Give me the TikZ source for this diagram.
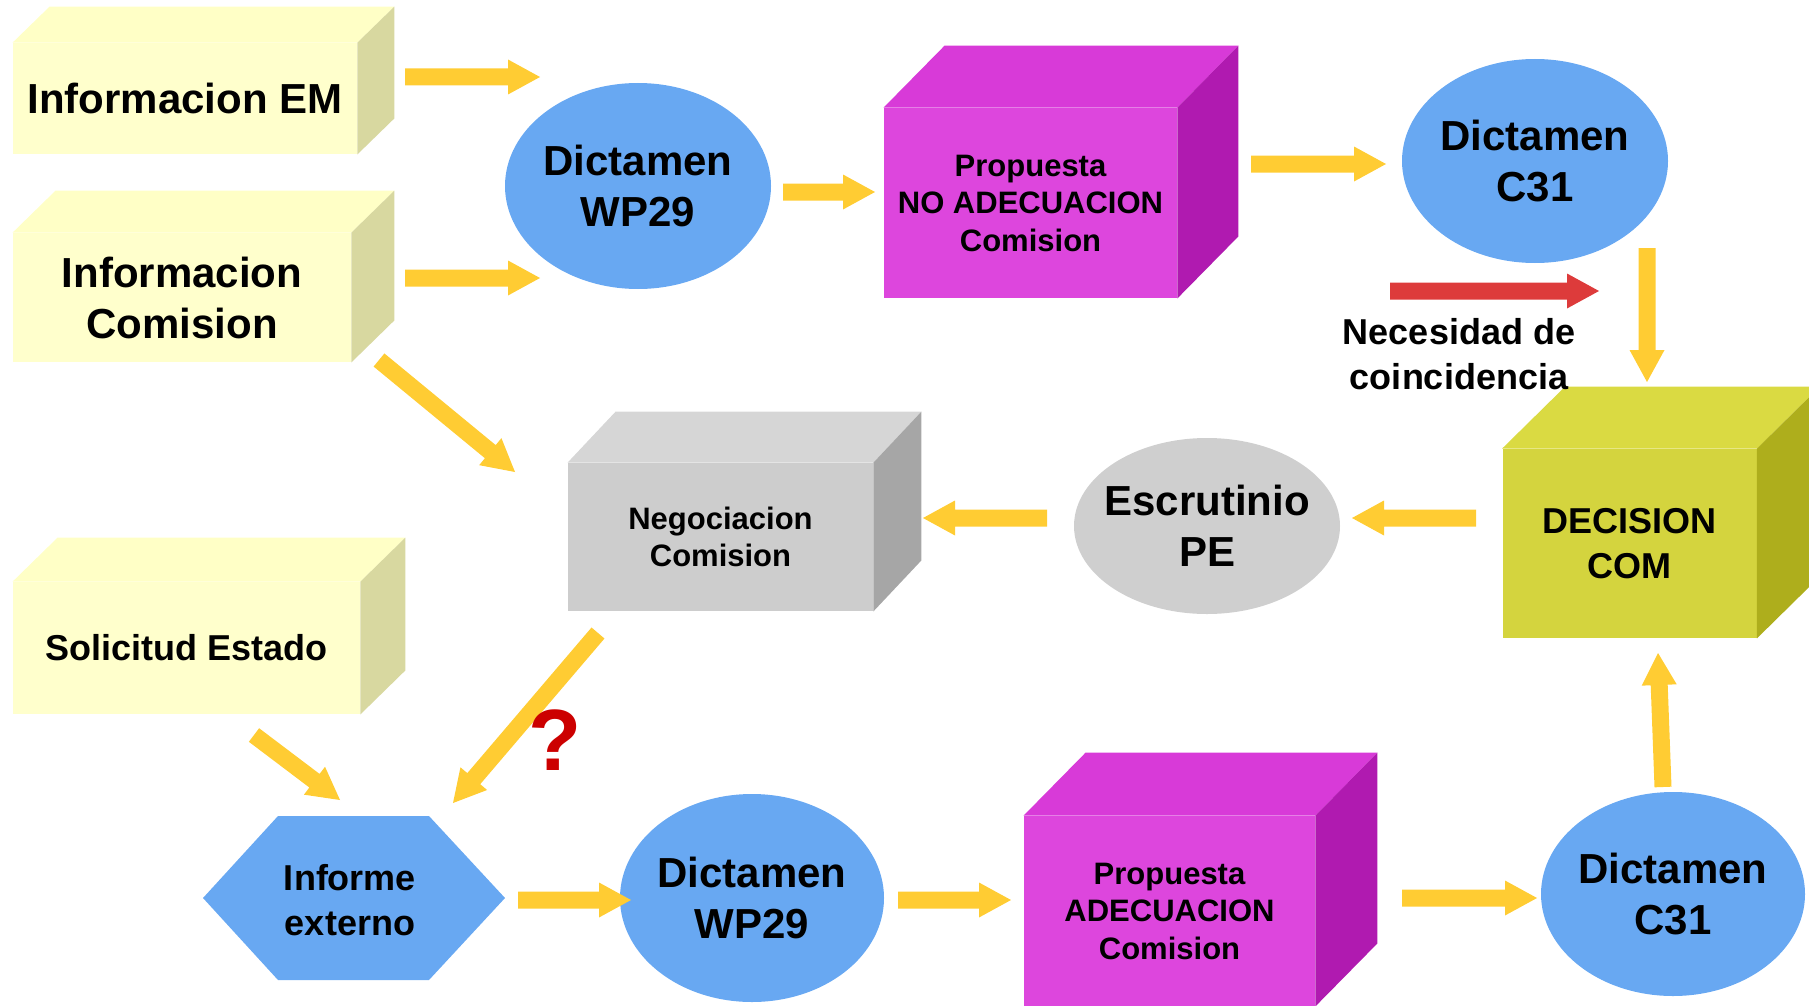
\documentclass[tikz,border=0pt]{standalone}
\usepackage{fontspec}
\setmainfont{Liberation Sans}
\usetikzlibrary{shapes.geometric,calc}

\definecolor{infoyel}{HTML}{FFFFCC}
\definecolor{infoyeltop}{HTML}{FFFFC6}
\definecolor{infoyelside}{HTML}{D8D8A0}
\definecolor{propmag}{HTML}{DD46DD}
\definecolor{propmagtop}{HTML}{D83AD8}
\definecolor{propmagside}{HTML}{B01AB0}
\definecolor{negogray}{HTML}{CDCDCD}
\definecolor{negograytop}{HTML}{D6D6D6}
\definecolor{negograyside}{HTML}{A6A6A6}
\definecolor{decolive}{HTML}{D4D43E}
\definecolor{decolivetop}{HTML}{DADA42}
\definecolor{decoliveside}{HTML}{AEAE1C}
\definecolor{dictblue}{HTML}{68A8F2}
\definecolor{escgray}{HTML}{CFCFCF}
\definecolor{arrowgold}{HTML}{FFCC33}
\definecolor{arrowred}{HTML}{DD3B3B}
\definecolor{qred}{HTML}{CC0000}

% block arrow from tail coordinate #2 to tip coordinate #3
\newcommand{\fatarr}[3][arrowgold]{%
  \fill[#1] ($(#2)!4.25pt!90:(#3)$)
    -- ($($(#3)!16pt!(#2)$)!4.25pt!90:(#3)$)
    -- ($($(#3)!16pt!(#2)$)!8.75pt!90:(#3)$)
    -- (#3)
    -- ($($(#3)!16pt!(#2)$)!8.75pt!-90:(#3)$)
    -- ($($(#3)!16pt!(#2)$)!4.25pt!-90:(#3)$)
    -- ($(#2)!4.25pt!-90:(#3)$) -- cycle;}

% top and side faces of a cube whose front face is node #1
\newcommand{\cubesides}[4]{%
  \fill[#3] (#1.north west) -- ++(#2) -- ($(#1.north east)+(#2)$) -- (#1.north east) -- cycle;
  \fill[#4] (#1.north east) -- ++(#2) -- ($(#1.south east)+(#2)$) -- (#1.south east) -- cycle;}

\tikzset{
  front/.style={rectangle, inner sep=0pt, align=center},
  dict/.style={ellipse, inner sep=-15pt, fill=dictblue, align=center, bigtxt},
  bigtxt/.style={font=\bfseries\fontsize{21}{25.5}\selectfont},
  midtxt/.style={font=\bfseries\fontsize{18}{22.5}\selectfont},
  smalltxt/.style={font=\bfseries\fontsize{15.5}{18.75}\selectfont},
}

\begin{document}
\begin{tikzpicture}[x=0.5pt,y=0.5pt,yscale=-1]
\clip (0,0) rectangle (1809,1006);

%Shape: Cube
\node[front, fill=infoyel, bigtxt, minimum width=172pt, minimum height=55.5pt] (infoEM) at (185,98.5) {Informacion EM};
\cubesides{infoEM}{37,-36}{infoyeltop}{infoyelside}
%Shape: Cube
\node[front, fill=infoyel, bigtxt, minimum width=169pt, minimum height=64.5pt] (infoCom) at (182,297.5) {Informacion\\Comision};
\cubesides{infoCom}{43,-42}{infoyeltop}{infoyelside}
%Shape: Cube
\node[front, fill=infoyel, midtxt, minimum width=173.5pt, minimum height=66pt] (solEst) at (186.5,648) {Solicitud Estado};
\cubesides{solEst}{45,-44}{infoyeltop}{infoyelside}
%Shape: Cube
\node[front, fill=propmag, smalltxt, minimum width=146.5pt, minimum height=95pt] (noAdec) at (1030.5,203) {Propuesta\\NO ADECUACION\\Comision};
\cubesides{noAdec}{61,-62}{propmagtop}{propmagside}
%Shape: Cube
\node[front, fill=negogray, smalltxt, minimum width=152.5pt, minimum height=74pt] (negoc) at (720.5,537) {Negociacion\\Comision};
\cubesides{negoc}{48,-51}{negograytop}{negograyside}
%Shape: Cube
\node[front, fill=decolive, midtxt, minimum width=127pt, minimum height=94.5pt] (decis) at (1629.5,543.5) {DECISION\\COM};
\cubesides{decis}{63,-62}{decolivetop}{decoliveside}
%Shape: Cube
\node[front, fill=propmag, smalltxt, minimum width=145.5pt, minimum height=95pt] (adec) at (1169.5,911) {Propuesta\\ADECUACION\\Comision};
\cubesides{adec}{62,-63}{propmagtop}{propmagside}

%Shape: Ellipse
\node[dict, minimum width=133pt, minimum height=103pt] (wpA) at (638,186) {Dictamen\\WP29};
%Shape: Ellipse
\node[dict, minimum width=133pt, minimum height=102pt] (cA) at (1535,161) {Dictamen\\C31};
%Shape: Ellipse
\node[dict, fill=escgray, minimum width=133pt, minimum height=88pt] (escr) at (1207,526) {Escrutinio\\PE};
%Shape: Ellipse
\node[dict, minimum width=132pt, minimum height=104pt] (wpB) at (752,898) {Dictamen\\WP29};
%Shape: Ellipse
\node[dict, minimum width=132pt, minimum height=102pt] (cB) at (1673,894) {Dictamen\\C31};

%Shape: Hexagon
\fill[dictblue] (203,898) -- (278,816) -- (429,816) -- (505,898) -- (429,980) -- (278,980) -- cycle;
% Text Node
\node[midtxt, align=center] (infEx) at (350,900) {Informe\\externo};

%Straight Lines
\coordinate (emOut) at (405,77);    \coordinate (wpAinT) at (540,77);
\coordinate (comOut) at (405,278);  \coordinate (wpAinB) at (540,278);
\coordinate (wpAout) at (783,192);  \coordinate (noAin) at (875,192);
\coordinate (noAout) at (1251,164); \coordinate (cAin) at (1386,164);
\coordinate (cAout) at (1647,248);  \coordinate (decTop) at (1647,382);
\coordinate (comDiag) at (379,360); \coordinate (negIn) at (515,472);
\coordinate (decOut) at (1476,518); \coordinate (escIn) at (1352,518);
\coordinate (escOut) at (1047,518); \coordinate (negR) at (923,518);
\coordinate (negOut) at (598,633);  \coordinate (infInR) at (453,803);
\coordinate (solOut) at (254,735);  \coordinate (infInL) at (340,800);
\coordinate (infOut) at (518,900);  \coordinate (wpBin) at (631,900);
\coordinate (wpBout) at (898,900);  \coordinate (adIn) at (1011,900);
\coordinate (adOut) at (1402,898);  \coordinate (cBin) at (1537,898);
\coordinate (cBout) at (1663,787);  \coordinate (decBot) at (1658,653);
\coordinate (redOut) at (1390,291); \coordinate (redIn) at (1599,291);

\fatarr{emOut}{wpAinT}
\fatarr{comOut}{wpAinB}
\fatarr{wpAout}{noAin}
\fatarr{noAout}{cAin}
\fatarr{cAout}{decTop}
\fatarr{comDiag}{negIn}
\fatarr{decOut}{escIn}
\fatarr{escOut}{negR}
\fatarr{negOut}{infInR}
\fatarr{solOut}{infInL}
\fatarr{infOut}{wpBin}
\fatarr{wpBout}{adIn}
\fatarr{adOut}{cBin}
\fatarr{cBout}{decBot}
\fatarr[arrowred]{redOut}{redIn}

% Text Node
\node[midtxt, align=center] (neces) at (1459,354) {Necesidad de\\coincidencia};
% Text Node
\node[text=qred, font=\bfseries\fontsize{43.5}{50}\selectfont] (quest) at (555,740) {?};

\end{tikzpicture}
\end{document}
